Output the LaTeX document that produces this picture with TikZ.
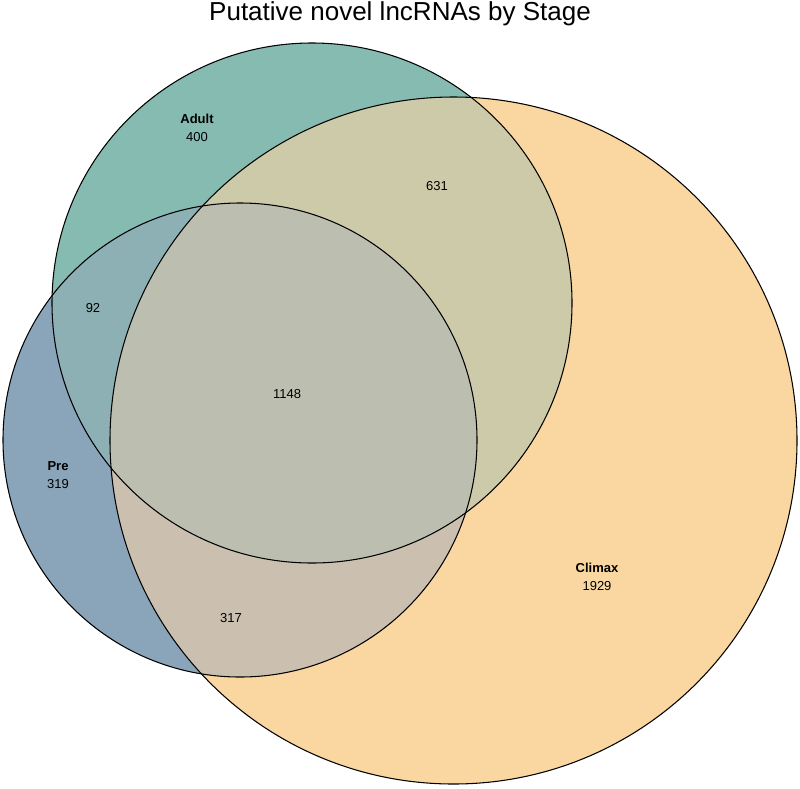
\documentclass[tikz,border=0pt]{standalone}
\usepackage{fontspec}
\setmainfont{Liberation Sans}
\usepackage{tikz}
\usetikzlibrary{positioning}
\definecolor{adultcol}{HTML}{86BBB1}
\definecolor{precol}{HTML}{8AA5BA}
\definecolor{climaxcol}{HTML}{FAD7A0}
\definecolor{apcol}{HTML}{8DB0B5}
\definecolor{accol}{HTML}{CDCAA9}
\definecolor{pccol}{HTML}{CBBFB0}
\definecolor{allcol}{HTML}{BCBFB0}
\tikzset{
  setline/.style={draw=black, line width=0.6pt},
  cnt/.style={font=\fontsize{7.4}{10.2}\selectfont, align=center, inner sep=0pt},
}
\def\adultset{(312,303) circle (260)}
\def\preset{(240,440) circle (237)}
\def\climaxset{(453.5,440.5) circle (343.5)}

\begin{document}
\begin{tikzpicture}[x=0.02cm, y=-0.02cm]
  \useasboundingbox (0,0) rectangle (800,788);
  % single sets
  \fill[adultcol] \adultset;
  \fill[precol] \preset;
  \fill[climaxcol] \climaxset;
  % pairwise overlaps
  \begin{scope}
    \clip \adultset; \fill[apcol] \preset; \fill[accol] \climaxset;
  \end{scope}
  \begin{scope}
    \clip \preset; \fill[pccol] \climaxset;
  \end{scope}
  % all three
  \begin{scope}
    \clip \adultset; \clip \preset; \fill[allcol] \climaxset;
  \end{scope}
  % outlines
  \draw[setline] \adultset;
  \draw[setline] \preset;
  \draw[setline] \climaxset;

  \node[font=\fontsize{14.8}{17}\selectfont] (title) at (400,14) {Putative novel lncRNAs by Stage};
  \node[cnt] (adult) at (197,128) {\textbf{Adult}\\400};
  \node[cnt] (pre) at (58,475) {\textbf{Pre}\\319};
  \node[cnt] (climax) at (597,577) {\textbf{Climax}\\1929};
  \node[cnt] (ap) at (93,308) {92};
  \node[cnt] (ac) at (437,186) {631};
  \node[cnt] (pc) at (231,618) {317};
  \node[cnt] (apc) at (287,394) {1148};
\end{tikzpicture}
\end{document}
